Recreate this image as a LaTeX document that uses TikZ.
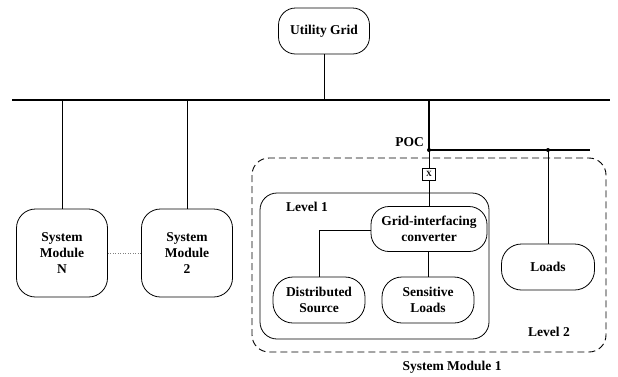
\documentclass[tikz,border=0pt]{standalone}
\usepackage{fontspec}
\setmainfont{Liberation Serif}
\begin{document}
\begin{tikzpicture}[x=1pt,y=-1pt,
  box/.style={draw,rounded corners=17pt,line width=0.8pt,align=center,font=\fontsize{13.5}{16}\selectfont\bfseries,inner sep=0pt},
  lbl/.style={font=\fontsize{13.5}{16}\selectfont\bfseries,inner sep=0pt},
  wire/.style={line width=0.8pt},
  bus/.style={line width=1.4pt},
  junction/.style={circle,fill,inner sep=0pt,minimum size=4pt}]
\useasboundingbox (0,0) rectangle (618,376);

% utility grid and main bus
\node[box,minimum width=91pt,minimum height=46pt] (grid) at (324,31) {Utility Grid};
\coordinate (busL) at (12,100);
\coordinate (busR) at (610,100);
\draw[bus] (busL) -- (busR);
\coordinate (gridtap) at (324,100);
\draw[wire] (grid.south) -- (gridtap);

% other system modules
\node[box,minimum width=91pt,minimum height=88pt,rounded corners=19pt] (smN) at (62,253) {System\\Module\\N};
\node[box,minimum width=91pt,minimum height=88pt,rounded corners=19pt] (sm2) at (187,253) {System\\Module\\2};
\coordinate (tapN) at (62,100);
\coordinate (tap2) at (187,100);
\draw[wire] (tapN) -- (smN.north);
\draw[wire] (tap2) -- (sm2.north);
\draw[dotted,line width=0.5pt,gray] (smN.east) -- (sm2.east -| sm2.west);

% system module 1 boundary (level 2)
\draw[line width=0.9pt,dash pattern=on 7pt off 4pt,rounded corners=17pt] (252,158) rectangle (606,352);
\node[lbl] (lvl2) at (549,332) {Level 2};
\node[lbl] (sm1) at (452,367) {System Module 1};

% level 1 boundary
\draw[wire,rounded corners=17pt] (260,193) rectangle (489,339);
\node[lbl] (lvl1) at (307,207) {Level 1};

% point of connection
\coordinate (poctap) at (429,100);
\node[junction] (poc) at (429,150) {};
\node[junction] (loadtap) at (548,150) {};
\coordinate (pocR) at (590,150);
\node[lbl,anchor=east] (poclbl) at (424,142) {POC};
\draw[bus] (poctap) -- (poc.center);
\draw[bus] (poc.center) -- (pocR);

% level 1 components
\node[box,minimum width=116pt,minimum height=45pt,rounded corners=18pt] (gic) at (429,229) {Grid-interfacing\\converter};
\node[draw,line width=0.7pt,fill=white,minimum width=12.5pt,minimum height=12pt,inner sep=0pt,font=\fontsize{8}{9}\selectfont\bfseries] (sw) at (429,174) {X};
\draw[wire] (poc.center) -- (sw.north);
\draw[wire] (sw.south) -- (gic.north);

\node[box,minimum width=92pt,minimum height=46pt,rounded corners=20pt] (ds) at (319,300) {Distributed\\Source};
\node[box,minimum width=92pt,minimum height=46pt,rounded corners=20pt] (sl) at (428,300) {Sensitive\\Loads};
\draw[wire] (gic.west |- 0,230) -| (ds.north);
\draw[wire] (gic.south -| sl.north) -- (sl.north);

% level 2 load
\node[box,minimum width=93pt,minimum height=46pt,rounded corners=20pt] (loads) at (548,267) {Loads};
\draw[wire] (loadtap.center) -- (loads.north);
\end{tikzpicture}
\end{document}
